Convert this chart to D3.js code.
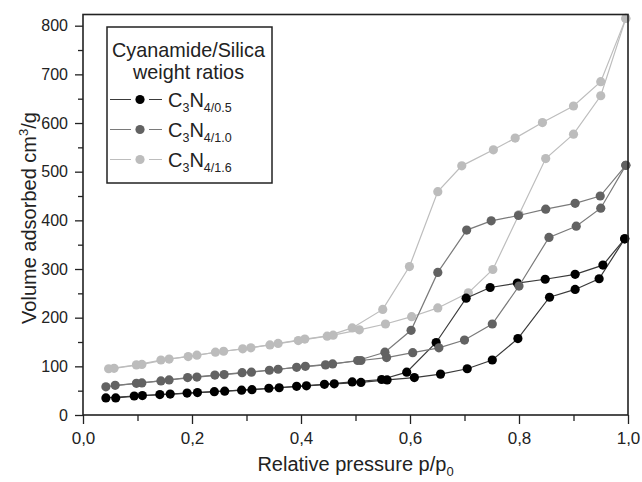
<!DOCTYPE html>
<html>
<head>
<meta charset="utf-8">
<script src="https://cdn.jsdelivr.net/npm/d3@7"></script>
<style>
  body { margin: 0; background: #fff; }
  svg { display: block; font-family: "Liberation Sans", Arial, sans-serif; }
</style>
</head>
<body>
<div id="chart"></div>
<script>
// isotherms: [p/p0, volume cm3/g]
const adsorption05 = [
    [0.060, 35], [0.109, 40], [0.160, 43], [0.210, 46], [0.260, 49], [0.310, 52], [0.360, 56],
    [0.410, 60], [0.461, 64], [0.510, 67], [0.558, 72], [0.608, 77], [0.656, 84], [0.705, 95],
    [0.751, 113], [0.798, 157], [0.856, 242], [0.903, 258], [0.947, 280], [0.994, 362]
];
const desorption05 = [
    [0.994, 362], [0.954, 308], [0.903, 289], [0.848, 279], [0.797, 271], [0.747, 262], [0.703, 240],
    [0.648, 149], [0.594, 88], [0.548, 73], [0.494, 68], [0.443, 63], [0.392, 59], [0.341, 55],
    [0.291, 51], [0.241, 48], [0.191, 45], [0.141, 42], [0.094, 39], [0.042, 35]
];
const adsorption10 = [
    [0.059, 61], [0.108, 66], [0.158, 72], [0.209, 78], [0.259, 83], [0.309, 88], [0.358, 94],
    [0.408, 100], [0.458, 105], [0.510, 112], [0.557, 118], [0.605, 128], [0.653, 138], [0.700, 154],
    [0.751, 187], [0.800, 265], [0.855, 365], [0.905, 388], [0.950, 425], [0.996, 513]
];
const desorption10 = [
    [0.996, 513], [0.949, 450], [0.903, 435], [0.849, 423], [0.799, 410], [0.749, 399], [0.704, 380],
    [0.651, 293], [0.602, 174], [0.554, 129], [0.504, 112], [0.445, 103], [0.392, 98], [0.342, 92],
    [0.292, 87], [0.242, 82], [0.192, 77], [0.143, 70], [0.098, 65], [0.042, 58]
];
const adsorption16 = [
    [0.057, 96], [0.108, 104], [0.158, 115], [0.209, 123], [0.258, 131], [0.308, 138], [0.358, 147],
    [0.407, 156], [0.459, 164], [0.507, 175], [0.555, 187], [0.603, 202], [0.651, 220], [0.707, 251],
    [0.752, 299], [0.800, 412], [0.849, 527], [0.900, 577], [0.950, 656], [0.996, 815]
];
const desorption16 = [
    [0.996, 815], [0.950, 685], [0.900, 635], [0.843, 601], [0.793, 569], [0.753, 545], [0.695, 512],
    [0.651, 459], [0.599, 305], [0.550, 217], [0.494, 179], [0.448, 162], [0.395, 153], [0.343, 144],
    [0.293, 136], [0.243, 129], [0.193, 120], [0.143, 113], [0.098, 103], [0.047, 95]
];

const seriesNames = ['4/0.5', '4/1.0', '4/1.6'];
const xTicks = [0, 0.2, 0.4, 0.6, 0.8, 1.0];
const xMinorTicks = [0.1, 0.3, 0.5, 0.7, 0.9];
const yTicks = [0, 100, 200, 300, 400, 500, 600, 700, 800];
const yMinorTicks = [50, 150, 250, 350, 450, 550, 650, 750];

const width = 642;
const height = 482;
const margin = { top: 14.5, right: 14, bottom: 67, left: 83 };

const svg = d3.select('#chart')
    .append('svg')
    .attr('width', width)
    .attr('height', height);

const xScale = d3.scaleLinear().domain([0, 1]).range([margin.left, width - margin.right]);
const yScale = d3.scaleLinear().domain([0, 823]).range([height - margin.bottom, margin.top]);

// series styles (dot colour, line colour)
const styles = {
    '4/0.5': { dot: '#000', line: '#3a3a3a' },
    '4/1.0': { dot: '#626262', line: '#7a7a7a' },
    '4/1.6': { dot: '#bcbcbc', line: '#bdbdbd' },
};

const series = [
    { name: '4/1.6', ads: adsorption16, des: desorption16 },
    { name: '4/0.5', ads: adsorption05, des: desorption05 },
    { name: '4/1.0', ads: adsorption10, des: desorption10 },
];

const line = d3.line().x(d => xScale(d[0])).y(d => yScale(d[1]));

for (const s of series) {
    const st = styles[s.name];
    const g = svg.append('g').attr('class', 'series');
    g.selectAll('path')
        .data([s.ads, s.des])
        .join('path')
        .attr('d', line)
        .attr('fill', 'none')
        .attr('stroke', st.line)
        .attr('stroke-width', 1.2);
    g.selectAll('circle')
        .data(s.ads.concat(s.des))
        .join('circle')
        .attr('cx', d => xScale(d[0]))
        .attr('cy', d => yScale(d[1]))
        .attr('r', 4.6)
        .attr('fill', st.dot);
}

// axes
const fmtX = d => d3.format('.1f')(d).replace('.', ',');
svg.append('g')
    .attr('class', 'x-axis')
    .attr('transform', `translate(0, ${yScale(0)})`)
    .call(d3.axisBottom(xScale).tickValues(xTicks).tickFormat(fmtX).tickSize(9).tickPadding(8).tickSizeOuter(0));
svg.append('g')
    .attr('transform', `translate(0, ${yScale(0)})`)
    .call(d3.axisBottom(xScale).tickValues(xMinorTicks).tickFormat('').tickSize(6).tickSizeOuter(0));

svg.append('g')
    .attr('class', 'y-axis')
    .attr('transform', `translate(${xScale(0)}, 0)`)
    .call(d3.axisLeft(yScale).tickValues(yTicks).tickSize(8).tickPadding(7).tickSizeOuter(0));
svg.append('g')
    .attr('transform', `translate(${xScale(0)}, 0)`)
    .call(d3.axisLeft(yScale).tickValues(yMinorTicks).tickFormat('').tickSize(5).tickSizeOuter(0));

svg.selectAll('.domain').remove();
svg.selectAll('.tick line').attr('stroke', '#222').attr('stroke-width', 1.3);
svg.selectAll('.tick text')
    .attr('fill', '#222')
    .style('font-size', '16px')
    .style('font-family', '"Liberation Sans", Arial, sans-serif');
svg.selectAll('.x-axis .tick text').style('font-size', '17px');

// frame
svg.append('rect')
    .attr('x', xScale(0))
    .attr('y', yScale(823))
    .attr('width', xScale(1) - xScale(0))
    .attr('height', yScale(0) - yScale(823))
    .attr('fill', 'none')
    .attr('stroke', '#222')
    .attr('stroke-width', 1.6);

// axis titles
const xTitle = svg.append('text')
    .attr('x', (xScale(0) + xScale(1)) / 2)
    .attr('y', 471)
    .attr('text-anchor', 'middle')
    .attr('fill', '#222')
    .style('font-size', '20px');
xTitle.append('tspan').text('Relative pressure p/p');
xTitle.append('tspan').attr('dy', 5).style('font-size', '13px').text('0');

const yTitle = svg.append('text')
    .attr('transform', `translate(36, 218) rotate(-90)`)
    .attr('text-anchor', 'middle')
    .attr('fill', '#222')
    .style('font-size', '20px');
yTitle.append('tspan').text('Volume adsorbed cm');
yTitle.append('tspan').attr('dy', -8).style('font-size', '13px').text('3');
yTitle.append('tspan').attr('dy', 8).text('/g');

// legend
const legend = svg.append('g').attr('class', 'legend');
legend.append('rect')
    .attr('x', 107).attr('y', 27)
    .attr('width', 165).attr('height', 156)
    .attr('fill', '#fff')
    .attr('stroke', '#222')
    .attr('stroke-width', 1.5);
legend.append('text')
    .attr('x', 188.5).attr('y', 57)
    .attr('text-anchor', 'middle')
    .attr('fill', '#222')
    .style('font-size', '19.8px')
    .text('Cyanamide/Silica');
legend.append('text')
    .attr('x', 188.5).attr('y', 79)
    .attr('text-anchor', 'middle')
    .attr('fill', '#222')
    .style('font-size', '19.8px')
    .text('weight ratios');

seriesNames.forEach((name, i) => {
    const cy = 99.5 + i * 30;
    const st = styles[name];
    const row = legend.append('g');
    row.append('line')
        .attr('x1', 110).attr('x2', 162)
        .attr('y1', cy).attr('y2', cy)
        .attr('stroke', st.line)
        .attr('stroke-width', 1.2);
    row.append('rect')
        .attr('x', 131).attr('y', cy - 4)
        .attr('width', 18).attr('height', 8)
        .attr('fill', '#fff');
    row.append('circle')
        .attr('cx', 140).attr('cy', cy)
        .attr('r', 4.6)
        .attr('fill', st.dot);
    const t = row.append('text')
        .attr('x', 168).attr('y', cy + 7.5)
        .attr('fill', '#222')
        .style('font-size', '20px');
    t.append('tspan').text('C');
    t.append('tspan').attr('dy', 5).style('font-size', '12.5px').text('3');
    t.append('tspan').attr('dy', -5).text('N');
    t.append('tspan').attr('dy', 5).style('font-size', '12.5px').text(name);
});
</script>
</body>
</html>
